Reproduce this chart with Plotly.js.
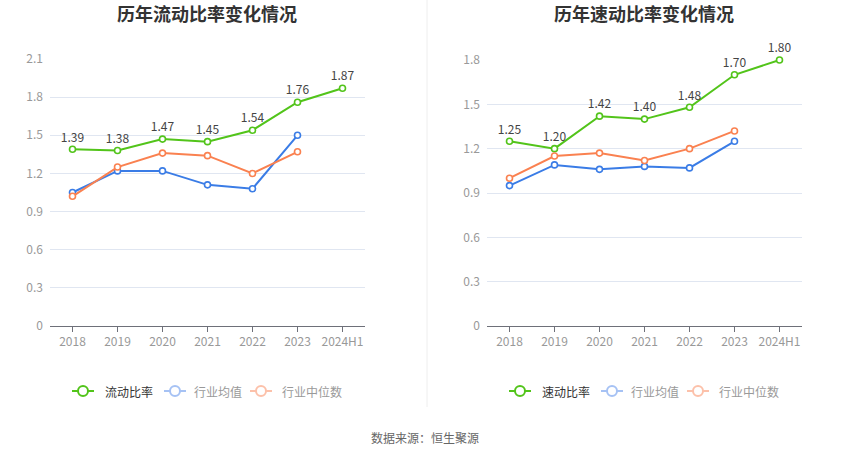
<!DOCTYPE html>
<html>
<head>
<meta charset="utf-8">
<script src="https://cdn.plot.ly/plotly-3.0.1.min.js"></script>
<style>html,body{margin:0;padding:0;background:#fff;}#chart{width:850px;height:459px;}</style>
</head>
<body>
<div id="chart"></div>
<script>
// ---- data ----
const years = ["2018", "2019", "2020", "2021", "2022", "2023", "2024H1"];
const currentRatio = [1.39, 1.38, 1.47, 1.45, 1.54, 1.76, 1.87];
const currentIndustryAvg = [1.05, 1.22, 1.22, 1.11, 1.08, 1.50];
const currentIndustryMedian = [1.02, 1.25, 1.36, 1.34, 1.20, 1.37];
const quickRatio = [1.25, 1.20, 1.42, 1.40, 1.48, 1.70, 1.80];
const quickIndustryAvg = [0.95, 1.09, 1.06, 1.08, 1.07, 1.25];
const quickIndustryMedian = [1.00, 1.15, 1.17, 1.12, 1.20, 1.32];
const leftTitle = "历年流动比率变化情况";
const rightTitle = "历年速动比率变化情况";
const leftNames = ["流动比率", "行业均值", "行业中位数"];
const rightNames = ["速动比率", "行业均值", "行业中位数"];
const sourceText = "数据来源：恒生聚源";

// ---- style ----
const W = 850, H = 459;
const FONT = "Noto Sans CJK SC, Noto Sans, sans-serif";
const GREEN = "#52c41a", BLUE = "#3a7ce6", ORANGE = "#fa8150";
const BLUE_FADE = "#a6c2f4", ORANGE_FADE = "#fcc1aa";
const px = x => x / W;
const py = y => 1 - y / H;

function series(x, y, color, name, xa, ya, withText) {
  const t = {
    type: "scatter", x: x, y: y, name: name, xaxis: xa, yaxis: ya,
    mode: withText ? "lines+markers+text" : "lines+markers",
    line: {color: color, width: 2},
    marker: {symbol: "circle", size: 6, color: "#fff", line: {color: color, width: 1.6}},
    showlegend: false, cliponaxis: false, hoverinfo: "x+y"
  };
  if (withText) {
    t.text = y.map(v => v.toFixed(2));
    t.textposition = "top center";
    t.textfont = {family: FONT, size: 12, color: "#444"};
  }
  return t;
}

const data = [
  series(years, currentRatio, GREEN, leftNames[0], "x", "y", true),
  series(years.slice(0, currentIndustryAvg.length), currentIndustryAvg, BLUE, leftNames[1], "x", "y", false),
  series(years.slice(0, currentIndustryMedian.length), currentIndustryMedian, ORANGE, leftNames[2], "x", "y", false),
  series(years, quickRatio, GREEN, rightNames[0], "x2", "y2", true),
  series(years.slice(0, quickIndustryAvg.length), quickIndustryAvg, BLUE, rightNames[1], "x2", "y2", false),
  series(years.slice(0, quickIndustryMedian.length), quickIndustryMedian, ORANGE, rightNames[2], "x2", "y2", false)
];

const xBase = {
  type: "category", range: [-0.5, 6.5], showgrid: false, zeroline: false,
  showline: true, linecolor: "#6e7079", linewidth: 1,
  ticks: "outside", ticklen: 5, tickcolor: "#6e7079",
  tickfont: {family: FONT, size: 12, color: "#999"}, fixedrange: true
};
const yBase = {
  dtick: 0.3, showgrid: true, gridcolor: "#e0e6f1", gridwidth: 1, zeroline: false,
  showline: false, ticks: "", ticklabelstandoff: 6,
  tickfont: {family: FONT, size: 12, color: "#999"}, fixedrange: true
};

const annotations = [
  {text: "<b>" + leftTitle + "</b>", x: px(207), y: py(13), xref: "paper", yref: "paper", showarrow: false,
   font: {family: FONT, size: 18, color: "#333"}, xanchor: "center", yanchor: "middle"},
  {text: "<b>" + rightTitle + "</b>", x: px(644), y: py(13), xref: "paper", yref: "paper", showarrow: false,
   font: {family: FONT, size: 18, color: "#333"}, xanchor: "center", yanchor: "middle"},
  {text: sourceText, x: px(425), y: py(437), xref: "paper", yref: "paper", showarrow: false,
   font: {family: FONT, size: 12, color: "#666"}, xanchor: "center", yanchor: "middle"}
];
const shapes = [
  {type: "line", xref: "paper", yref: "paper", x0: px(427), x1: px(427), y0: py(0), y1: py(407),
   line: {color: "#eeeeee", width: 1}}
];

function legend(offset, names) {
  const items = [
    {icon: 83, text: 103, color: GREEN, tcolor: "#333", name: names[0]},
    {icon: 175, text: 192, color: BLUE_FADE, tcolor: "#999", name: names[1]},
    {icon: 261, text: 280, color: ORANGE_FADE, tcolor: "#999", name: names[2]}
  ];
  const yc = 391;
  items.forEach(it => {
    const cx = it.icon + offset;
    shapes.push({type: "line", xref: "paper", yref: "paper", x0: px(cx - 11), x1: px(cx + 11), y0: py(yc), y1: py(yc),
      line: {color: it.color, width: 2}});
    shapes.push({type: "circle", xref: "paper", yref: "paper", x0: px(cx - 5), x1: px(cx + 5), y0: py(yc - 5), y1: py(yc + 5),
      fillcolor: "#fff", line: {color: it.color, width: 2}});
    annotations.push({text: it.name, x: px(it.text + offset), y: py(yc), xref: "paper", yref: "paper", showarrow: false,
      xanchor: "left", yanchor: "middle", font: {family: FONT, size: 12, color: it.tcolor}});
  });
}
legend(0, leftNames);
legend(437, rightNames);

const layout = {
  width: W, height: H, margin: {l: 0, r: 0, t: 0, b: 0},
  paper_bgcolor: "#fff", plot_bgcolor: "#fff", showlegend: false,
  xaxis: Object.assign({}, xBase, {domain: [px(50), px(365)], anchor: "y"}),
  yaxis: Object.assign({}, yBase, {domain: [py(326), py(59)], range: [0, 2.1], anchor: "x"}),
  xaxis2: Object.assign({}, xBase, {domain: [px(487), px(802)], anchor: "y2"}),
  yaxis2: Object.assign({}, yBase, {domain: [py(326), py(60)], range: [0, 1.8], anchor: "x2"}),
  annotations: annotations, shapes: shapes
};

Plotly.newPlot("chart", data, layout, {displayModeBar: false, staticPlot: true});
</script>
</body>
</html>
